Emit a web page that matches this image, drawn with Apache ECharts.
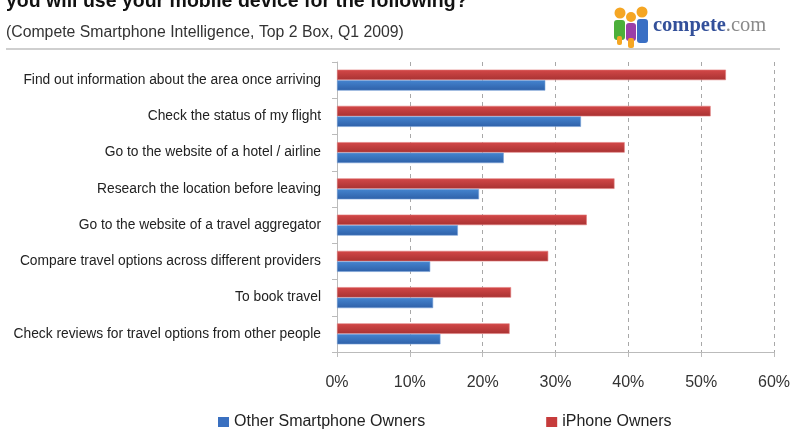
<!DOCTYPE html>
<html>
<head>
<meta charset="utf-8">
<script src="https://cdn.jsdelivr.net/npm/echarts@6/dist/echarts.min.js"></script>
<style>
html,body{margin:0;padding:0;background:#fff;}
#c{width:793px;height:430px;}
</style>
</head>
<body>
<div id="c"></div>
<script>
var categories = [
  'Find out information about the area once arriving',
  'Check the status of my flight',
  'Go to the website of a hotel / airline',
  'Research the location before leaving',
  'Go to the website of a travel aggregator',
  'Compare travel options across different providers',
  'To book travel',
  'Check reviews for travel options from other people'
];
var otherSmartphone = [28.6, 33.5, 22.9, 19.5, 16.6, 12.8, 13.2, 14.2];
var iphoneOwners = [53.4, 51.3, 39.5, 38.1, 34.3, 29.0, 23.9, 23.7];
var seriesNames = ['Other Smartphone Owners', 'iPhone Owners'];
var titleText = 'you will use your mobile device for the following?';
var subtitleText = '(Compete Smartphone Intelligence, Top 2 Box, Q1 2009)';

var FONT = '"Liberation Sans", Arial, sans-serif';
var chart = echarts.init(document.getElementById('c'));

function grad(top, bottom) {
  return new echarts.graphic.LinearGradient(0, 0, 0, 1, [
    {offset: 0, color: top}, {offset: 1, color: bottom}
  ]);
}

chart.setOption({
  animation: false,
  backgroundColor: '#fff',
  textStyle: {fontFamily: FONT},
  grid: {left: 337, right: 16, top: 62, bottom: 78, containLabel: false},
  legend: {
    data: [
      {name: seriesNames[0], itemStyle: {color: '#3a70c0', borderWidth: 0}},
      {name: seriesNames[1], itemStyle: {color: '#c63b3b', borderWidth: 0}}
    ],
    left: 218, top: 414, padding: 0,
    icon: 'rect', itemWidth: 11, itemHeight: 10, itemGap: 121,
    textStyle: {fontSize: 16, color: '#222', fontFamily: FONT}
  },
  xAxis: {
    type: 'value', min: 0, max: 60, interval: 10,
    axisLabel: {formatter: '{value}%', fontSize: 16, color: '#333', margin: 23, fontFamily: FONT},
    axisLine: {show: true, lineStyle: {color: '#bbb', width: 1}},
    axisTick: {show: true, length: 5, lineStyle: {color: '#bbb'}},
    splitLine: {show: true, lineStyle: {color: '#a8a8a8', type: [4, 4], width: 1}}
  },
  yAxis: {
    type: 'category', data: categories, inverse: true,
    axisLabel: {fontSize: 13.8, color: '#222', margin: 16, fontFamily: FONT},
    axisLine: {show: true, lineStyle: {color: '#bbb', width: 1}},
    axisTick: {show: true, length: 5, alignWithLabel: false, lineStyle: {color: '#bbb'}},
    splitLine: {show: false}
  },
  series: [
    {
      name: seriesNames[1], type: 'bar', data: iphoneOwners,
      barWidth: 10.5, barGap: '0%',
      itemStyle: {color: grad('#d44848', '#a83232'), borderColor: '#e07c7c', borderWidth: 0.6}
    },
    {
      name: seriesNames[0], type: 'bar', data: otherSmartphone,
      barWidth: 10.5, barGap: '0%',
      itemStyle: {color: grad('#4585d0', '#2e60a8'), borderColor: '#7aa2d8', borderWidth: 0.6}
    }
  ],
  graphic: [
    {type: 'text', left: 6, top: -8, style: {text: titleText, font: 'bold 19.5px ' + FONT, fill: '#111'}},
    {type: 'text', left: 6, top: 25, style: {text: subtitleText, font: '15.8px ' + FONT, fill: '#333'}},
    {type: 'line', shape: {x1: 6, y1: 49, x2: 780, y2: 49}, style: {stroke: '#cfcfcf', lineWidth: 2}},
    // logo figures
    {type: 'circle', shape: {cx: 620, cy: 13, r: 5.5}, style: {fill: '#f5a623'}},
    {type: 'rect', shape: {x: 614, y: 20, width: 11, height: 20, r: 3}, style: {fill: '#4caf3a'}},
    {type: 'rect', shape: {x: 617, y: 36, width: 5, height: 9, r: 2}, style: {fill: '#f5a623'}},
    {type: 'circle', shape: {cx: 631, cy: 17, r: 5}, style: {fill: '#f5a623'}},
    {type: 'rect', shape: {x: 626, y: 23, width: 10, height: 18, r: 3}, style: {fill: '#9b3fa8'}},
    {type: 'rect', shape: {x: 628, y: 38, width: 6, height: 10, r: 2}, style: {fill: '#f5a623'}},
    {type: 'circle', shape: {cx: 642, cy: 12, r: 5.5}, style: {fill: '#f5a623'}},
    {type: 'rect', shape: {x: 637, y: 19, width: 11, height: 24, r: 3}, style: {fill: '#3a6fc4'}},
    {type: 'text', left: 653, top: 15, style: {
      text: '{a|compete}{b|.com}',
      rich: {
        a: {font: 'bold 20.5px "Liberation Serif", serif', fill: '#33509a'},
        b: {font: '20.5px "Liberation Serif", serif', fill: '#8a8a8a'}
      }
    }}
  ]
});
</script>
</body>
</html>
